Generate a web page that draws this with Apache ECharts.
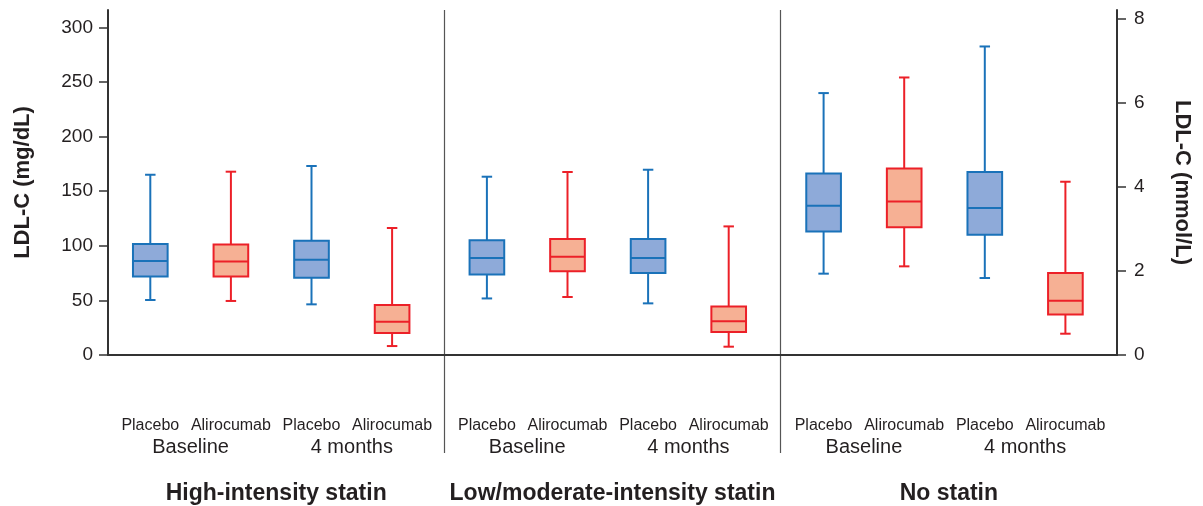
<!DOCTYPE html>
<html>
<head>
<meta charset="utf-8">
<script src="https://cdn.jsdelivr.net/npm/echarts@6/dist/echarts.min.js"></script>
<style>
html,body{margin:0;padding:0;background:#fff;}
#chart{width:1203px;height:506px;}
</style>
</head>
<body>
<div id="chart"></div>
<script>
// ---- data ----
const groups = ['High-intensity statin', 'Low/moderate-intensity statin', 'No statin'];
const arms = ['Placebo', 'Alirocumab', 'Placebo', 'Alirocumab'];
const times = ['Baseline', '4 months'];
const mgTicks = [0, 50, 100, 150, 200, 250, 300];
const mmolTicks = [0, 2, 4, 6, 8];
// [min, Q1, median, Q3, max] in mg/dL
const highIntensity = [
  [50.4, 72.0, 86.1, 101.6, 165.1],
  [49.5, 72.0, 85.7, 101.3, 167.9],
  [46.4, 70.8, 87.3, 104.7, 173.1],
  [8.2, 20.1, 30.5, 45.8, 116.3]
];
const lowModerate = [
  [51.8, 73.8, 88.8, 105.0, 163.3],
  [53.1, 76.6, 90.0, 106.2, 167.6],
  [47.3, 75.1, 88.8, 106.2, 169.7],
  [7.6, 21.1, 30.8, 44.5, 117.8]
];
const noStatin = [
  [74.5, 113.2, 136.7, 166.3, 239.9],
  [81.2, 116.9, 140.7, 170.9, 254.2],
  [70.5, 110.2, 134.6, 167.6, 282.6],
  [19.5, 37.2, 49.7, 75.1, 158.7]
];
const MG_PER_MMOL = 38.5;
const MG_MAX = 316;

// ---- style ----
const FONT = "'Liberation Sans', Arial, Helvetica, sans-serif";
const TXT = '#231f20';
const AXIS = '#333333';
const COLORS = {
  Placebo: { stroke: '#1a72b9', fill: '#8eaad9' },
  Alirocumab: { stroke: '#ec2028', fill: '#f6b094' }
};

const chart = echarts.init(document.getElementById('chart'), null, { renderer: 'canvas' });

function renderBox(params, api) {
  const x = api.value(0);
  const pMin = api.coord([x, api.value(1)]);
  const pQ1 = api.coord([x, api.value(2)]);
  const pMed = api.coord([x, api.value(3)]);
  const pQ3 = api.coord([x, api.value(4)]);
  const pMax = api.coord([x, api.value(5)]);
  const band = api.size([1, 0])[0];
  const bw = band * 0.43;
  const cw = band * 0.13;
  const c = COLORS[arms[x]];
  const cx = pMin[0];
  const lw = 2;
  const line = (x1, y1, x2, y2) => ({
    type: 'line', shape: { x1, y1, x2, y2 },
    style: { stroke: c.stroke, lineWidth: lw }
  });
  return {
    type: 'group',
    children: [
      line(cx, pQ3[1], cx, pMax[1]),
      line(cx, pQ1[1], cx, pMin[1]),
      line(cx - cw / 2, pMax[1], cx + cw / 2, pMax[1]),
      line(cx - cw / 2, pMin[1], cx + cw / 2, pMin[1]),
      {
        type: 'rect',
        shape: { x: cx - bw / 2, y: pQ3[1], width: bw, height: pQ1[1] - pQ3[1] },
        style: { fill: c.fill, stroke: c.stroke, lineWidth: lw }
      },
      line(cx - bw / 2, pMed[1], cx + bw / 2, pMed[1])
    ]
  };
}

// grid layout
const plotTop = 10, plotBottom = 151;
const boxGridLefts = [110, 446.6, 783.3];
const boxGridWidth = 322.4;
const W = 1203;

const grids = [
  { left: 108, right: W - 1117, top: plotTop, bottom: plotBottom, outerBoundsMode: 'none' },
  { left: 108, right: W - 1117, top: 506 - plotBottom, bottom: 53, outerBoundsMode: 'none' }
];
boxGridLefts.forEach(l => grids.push({
  left: l, right: W - l - boxGridWidth, top: plotTop, bottom: plotBottom, outerBoundsMode: 'none'
}));

const xAxes = [
  {
    gridIndex: 0, type: 'category', data: groups, position: 'bottom',
    axisLine: { show: true, lineStyle: { color: AXIS, width: 2 } },
    axisTick: { show: false },
    axisLabel: { interval: 0, margin: 127, fontFamily: FONT, fontSize: 23, fontWeight: 'bold', color: TXT },
    splitLine: { show: true, showMinLine: false, showMaxLine: false, lineStyle: { color: '#555', width: 1.2 } }
  },
  {
    gridIndex: 1, type: 'category', data: groups,
    axisLine: { show: false }, axisTick: { show: false }, axisLabel: { show: false },
    splitLine: { show: true, showMinLine: false, showMaxLine: false, lineStyle: { color: '#555', width: 1.2 } }
  }
];
const yAxes = [
  {
    gridIndex: 0, type: 'value', position: 'left', min: 0, max: MG_MAX,
    name: 'LDL-C (mg/dL)', nameLocation: 'middle', nameGap: 74, nameMoveOverlap: false,
    nameTextStyle: { fontFamily: FONT, fontSize: 22, fontWeight: 'bold', color: TXT },
    axisLine: { show: true, lineStyle: { color: AXIS, width: 2 } },
    axisTick: { show: true, length: 9, customValues: mgTicks, lineStyle: { color: AXIS, width: 1.5 } },
    axisLabel: { margin: 15, customValues: mgTicks, fontFamily: FONT, fontSize: 19, color: TXT },
    splitLine: { show: false }
  },
  {
    gridIndex: 0, type: 'value', position: 'right', min: 0, max: MG_MAX / MG_PER_MMOL,
    name: 'LDL-C (mmol/L)', nameLocation: 'middle', nameGap: 54, nameRotate: -90, nameMoveOverlap: false,
    nameTextStyle: { fontFamily: FONT, fontSize: 22, fontWeight: 'bold', color: TXT },
    axisLine: { show: true, lineStyle: { color: AXIS, width: 2 } },
    axisTick: { show: true, length: 9, customValues: mmolTicks, lineStyle: { color: AXIS, width: 1.5 } },
    axisLabel: { margin: 17, customValues: mmolTicks, fontFamily: FONT, fontSize: 19, color: TXT },
    splitLine: { show: false }
  },
  { gridIndex: 1, type: 'value', show: false }
];

const series = [];
const groupData = [highIntensity, lowModerate, noStatin];
groupData.forEach((gd, gi) => {
  const grid = gi + 2;
  xAxes.push({
    gridIndex: grid, type: 'category', data: arms, position: 'bottom', offset: 0,
    axisLine: { show: false }, axisTick: { show: false }, splitLine: { show: false },
    axisLabel: { interval: 0, margin: 63, fontFamily: FONT, fontSize: 16, color: TXT }
  });
  xAxes.push({
    gridIndex: grid, type: 'category', data: times, position: 'bottom', offset: 0,
    axisLine: { show: false }, axisTick: { show: false }, splitLine: { show: false },
    axisLabel: { interval: 0, margin: 82, fontFamily: FONT, fontSize: 20, color: TXT }
  });
  yAxes.push({ gridIndex: grid, type: 'value', min: 0, max: MG_MAX, show: false });
  series.push({
    type: 'custom',
    name: groups[gi],
    coordinateSystem: 'cartesian2d',
    xAxisIndex: xAxes.length - 2,
    yAxisIndex: yAxes.length - 1,
    renderItem: renderBox,
    clip: false,
    encode: { x: 0, y: [1, 2, 3, 4, 5] },
    data: gd.map((d, i) => [i].concat(d))
  });
});

chart.setOption({
  animation: false,
  backgroundColor: '#ffffff',
  grid: grids,
  xAxis: xAxes,
  yAxis: yAxes,
  series: series
});
</script>
</body>
</html>
